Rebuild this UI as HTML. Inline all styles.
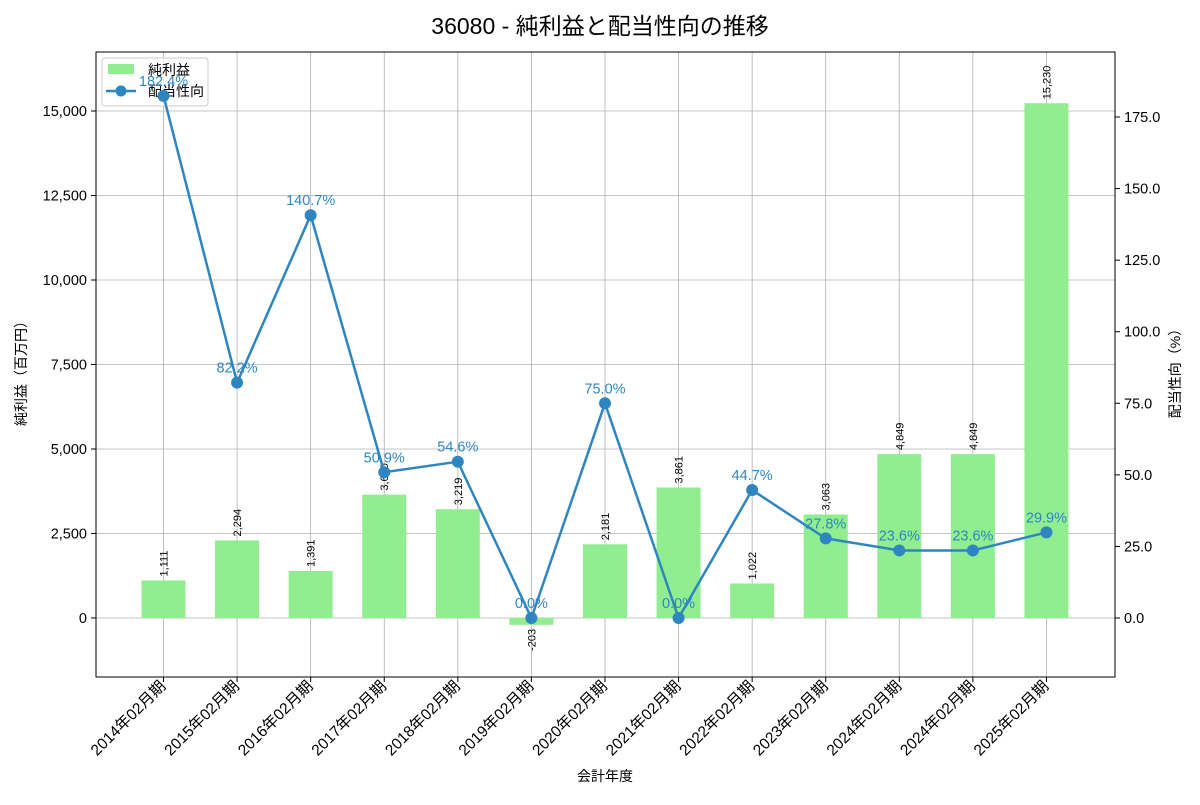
<!DOCTYPE html>
<html><head><meta charset="utf-8"><style>
body{margin:0;background:#fff}
svg text{font-family:"Liberation Sans","Noto Sans CJK JP",sans-serif}
</style></head><body>
<svg width="1200" height="800" viewBox="0 0 1200 800" xmlns="http://www.w3.org/2000/svg">
<rect width="1200" height="800" fill="#fff"/>
<text x="600" y="34" font-size="23" text-anchor="middle">36080 - 純利益と配当性向の推移</text>
<g id="grid" stroke="#b0b0b0" stroke-width="0.8"></g>
<g id="bars"></g>
<g>
<rect x="102" y="58" width="106" height="48" fill="#fff" fill-opacity="0.8" stroke="#ccc" rx="3"/>
<rect x="108" y="64" width="26" height="10" fill="#90ee90"/>
<text x="148" y="75" font-size="14">純利益</text>
<line x1="106" y1="91" x2="136" y2="91" stroke="#2e86c1" stroke-width="2.5"/>
<circle cx="121" cy="91" r="5.5" fill="#2e86c1"/>
<text x="148" y="96" font-size="14">配当性向</text>
</g>
<g id="line"></g>
<rect x="96" y="52" width="1019" height="625" fill="none" stroke="#000" stroke-width="1"/>
<g id="ax" font-size="14.5"></g>
<text x="26" y="370" font-size="14" text-anchor="middle" transform="rotate(-90 26 370)">純利益（百万円）</text>
<text x="1180" y="370" font-size="14" text-anchor="middle" transform="rotate(-90 1180 370)">配当性向（%）</text>
<text x="605" y="781" font-size="14" text-anchor="middle">会計年度</text>
</svg>
<script>
const ns="http://www.w3.org/2000/svg";
function el(p,t,a,txt){const e=document.createElementNS(ns,t);for(const k in a)e.setAttribute(k,a[k]);if(txt!=null)e.textContent=txt;document.getElementById(p).appendChild(e);return e;}
const labels=["2014年02月期","2015年02月期","2016年02月期","2017年02月期","2018年02月期","2019年02月期","2020年02月期","2021年02月期","2022年02月期","2023年02月期","2024年02月期","2024年02月期","2025年02月期"];
const vals=[1111,2294,1391,3650,3219,-203,2181,3861,1022,3063,4849,4849,15230];
const pay=[182.4,82.2,140.7,50.9,54.6,0,75.0,0,44.7,27.8,23.6,23.6,29.9];
const yv=v=>618-v*0.0338, yp=p=>618-p*2.8628, xc=i=>163.5+i*73.58;
for(let v=0;v<=15000;v+=2500){const y=yv(v);el("grid","line",{x1:96,x2:1115,y1:y,y2:y});
 el("ax","line",{x1:91,x2:96,y1:y,y2:y,stroke:"#000"});el("ax","text",{x:87,y:y+5,"text-anchor":"end"},v.toLocaleString("en-US"));}
for(let p=0;p<=175;p+=25){const y=yp(p);el("ax","line",{x1:1115,x2:1120,y1:y,y2:y,stroke:"#000"});el("ax","text",{x:1124,y:y+5},p.toFixed(1));}
labels.forEach((l,i)=>{const x=xc(i);el("grid","line",{x1:x,x2:x,y1:52,y2:677});
 el("ax","line",{x1:x,x2:x,y1:677,y2:682,stroke:"#000"});
 el("ax","text",{x:x+3,y:687,"font-size":"15.5","text-anchor":"end",transform:`rotate(-45 ${x+3} 687)`},l);
 const v=vals[i],y=yv(v);el("bars","rect",{x:x-22,width:44,y:Math.min(y,618),height:Math.abs(618-y),fill:"#90ee90"});
 const ty=v>=0?y-4:y+4;el("bars","text",{x:x+4,y:ty,"font-size":"11","text-anchor":v>=0?"start":"end",transform:`rotate(-90 ${x+4} ${ty})`},v.toLocaleString("en-US"));});
el("line","polyline",{points:pay.map((p,i)=>xc(i)+","+yp(p)).join(" "),fill:"none",stroke:"#2e86c1","stroke-width":2.5});
pay.forEach((p,i)=>{el("line","circle",{cx:xc(i),cy:yp(p),r:6,fill:"#2e86c1"});
 el("line","text",{x:xc(i),y:yp(p)-10,"font-size":"14.5","text-anchor":"middle",fill:"#2e86c1"},p.toFixed(1)+"%");});
</script>
</body></html>
